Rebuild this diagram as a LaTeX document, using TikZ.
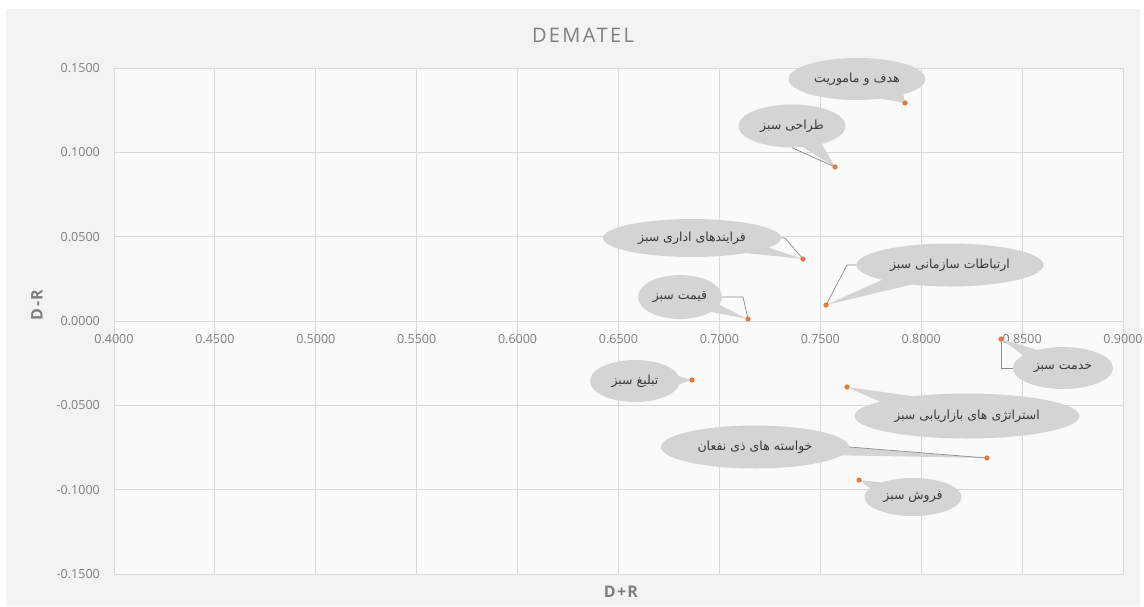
\documentclass[tikz,border=0pt]{standalone}
\usepackage{fontspec}
\setmainfont{Open Sans}
\newfontfamily\fa[Script=Arabic]{DejaVu Sans}
\TeXXeTstate=1
\usetikzlibrary{shapes.callouts}
\definecolor{chartbg}{HTML}{F3F3F3}
\definecolor{plotbg}{HTML}{FAFAFA}
\definecolor{gridc}{HTML}{D9D9D9}
\definecolor{tickc}{HTML}{7F7F7F}
\definecolor{titlec}{HTML}{7F7F7F}
\definecolor{bubble}{HTML}{D4D4D4}
\definecolor{leadc}{HTML}{8C8C8C}
\definecolor{dotc}{HTML}{E07B39}
\definecolor{labc}{HTML}{3A3A3A}
\tikzset{
  gridline/.style={draw=gridc, line width=0.9pt},
  ticklbl/.style={text=tickc, font=\fontsize{12.5}{14}\selectfont, inner sep=0pt},
  axtitle/.style={text=titlec, font=\fontsize{16}{18}\selectfont\bfseries\addfontfeature{LetterSpace=8}, inner sep=0pt},
  bubblebox/.style={ellipse callout, fill=bubble, draw=none, inner sep=0pt,
     callout pointer arc=22, text=labc, font=\fa\fontsize{12.5}{15}\selectfont},
  leader/.style={draw=leadc, line width=0.7pt},
  dot/.style={fill=dotc}
}
\begin{document}
\begin{tikzpicture}[x=1pt,y=-1pt]
\useasboundingbox (0,0) rectangle (1144,606);
\fill[white] (0,0) rectangle (1144,606);
\fill[chartbg] (6,9) rectangle (1140,606);
\fill[plotbg] (114,68) rectangle (1123,574);
% grid
\foreach \i in {0,...,10} \draw[gridline] ({114+\i*100.9},68) -- ({114+\i*100.9},574);
\foreach \j in {-3,...,3} \draw[gridline] (114,{321+\j*84.33}) -- (1123,{321+\j*84.33});
% y tick labels
\foreach \v/\j in {0.1500/-3,0.1000/-2,0.0500/-1,0.0000/0,-0.0500/1,-0.1000/2,-0.1500/3}
  \node[ticklbl, anchor=east] (yl\j) at (100,{321+\j*84.33}) {\v};
% x tick labels
\foreach \v/\i in {0.4000/0,0.4500/1,0.5000/2,0.5500/3,0.6000/4,0.6500/5,0.7000/6,0.7500/7,0.8000/8,0.8500/9,0.9000/10}
  \node[ticklbl] (xl\i) at ({114+\i*100.9},339) {\v};
% titles
\node[text=titlec, font=\fontsize{20}{24}\selectfont\addfontfeature{LetterSpace=12}, inner sep=0pt] (title) at (583,35) {DEMATEL};
\node[axtitle] (xtitle) at (621,592) {D+R};
\node[axtitle, rotate=90] (ytitle) at (37,305) {D-R};
% data points
\coordinate (p1) at (905,103);
\coordinate (p2) at (835,167);
\coordinate (p3) at (803,259);
\coordinate (p4) at (748,319);
\coordinate (p5) at (826,305);
\coordinate (p6) at (1001,339);
\coordinate (p7) at (692,380);
\coordinate (p8) at (847,387);
\coordinate (p9) at (987,458);
\coordinate (p10) at (859,480);
% elbows
\coordinate (e3) at (785,238);
\coordinate (e4) at (743,297);
\coordinate (e5) at (847,265);
\coordinate (e6) at (1001,368);
% callouts
\node[bubblebox, minimum width=137, minimum height=42, callout absolute pointer={(p1)}] (c1) at (857,79) {\beginR هدف و ماموریت\endR};
\node[bubblebox, minimum width=107, minimum height=43, callout absolute pointer={(p2)}] (c2) at (792,126) {\beginR طراحی سبز\endR};
\node[bubblebox, minimum width=178, minimum height=38, callout absolute pointer={(p3)}] (c3) at (692,238) {\beginR فرایندهای اداری سبز\endR};
\node[bubblebox, minimum width=84, minimum height=44, callout absolute pointer={(p4)}] (c4) at (680,297) {\beginR قیمت سبز\endR};
\node[bubblebox, minimum width=187, minimum height=43, callout absolute pointer={(p5)}] (c5) at (950,265) {\beginR ارتباطات سازمانی سبز\endR};
\node[bubblebox, minimum width=100, minimum height=42, callout absolute pointer={(p6)}] (c6) at (1063,368) {\beginR خدمت سبز\endR};
\node[bubblebox, minimum width=90, minimum height=42, callout absolute pointer={(p7)}] (c7) at (635,381) {\beginR تبلیغ سبز\endR};
\node[bubblebox, minimum width=225, minimum height=45, callout absolute pointer={(p8)}] (c8) at (967,416) {\beginR استراتژی های بازاریابی سبز\endR};
\node[bubblebox, minimum width=188, minimum height=43, callout absolute pointer={(p9)}] (c9) at (755,447) {\beginR خواسته های ذی نفعان\endR};
\node[bubblebox, minimum width=97, minimum height=38, callout absolute pointer={(p10)}] (c10) at (913,497) {\beginR فروش سبز\endR};
% leader lines
\draw[leader] (c2.south) -- (p2);
\draw[leader] (p3) -- (e3) -- (c3.east);
\draw[leader] (p4) -- (e4) -- (c4.east);
\draw[leader] (p5) -- (e5) -- (c5.west);
\draw[leader] (p6) -- (e6) -- (c6.west);
\draw[leader] (c9.east) -- (p9);
% dots
\foreach \k in {1,...,10} \fill[dot] (p\k) circle (2.6);
\end{tikzpicture}
\end{document}
